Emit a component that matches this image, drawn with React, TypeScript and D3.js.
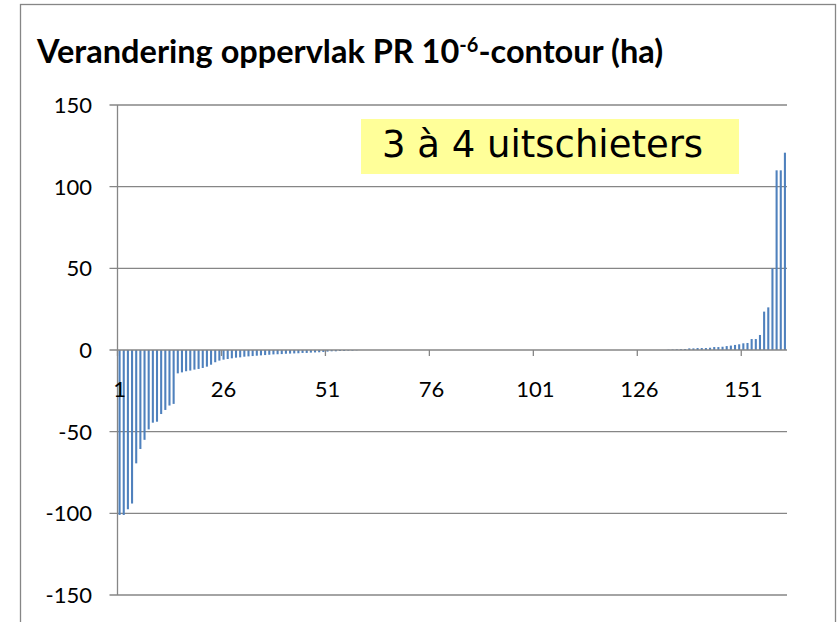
import React, { useEffect, useRef } from "react";
import * as d3 from "d3";

// change in area of the PR 10^-6 contour per establishment (ha), sorted
const negativeValues = [
  -101, -101, -97.5, -94, -69.4, -60.6, -55, -48.6, -44.5, -43.9,
  -39.2, -36.7, -34, -33, -14.3, -13.7, -13, -12.6, -12, -11.6,
  -11, -10.2, -9, -7.5, -6.5, -5.9, -5.5, -5.1, -4.7, -4.5,
  -4.1, -3.9, -3.7, -3.5, -3.3, -3.1, -2.9, -2.7, -2.6, -2.5,
  -2.3, -2.2, -2.1, -2, -1.8, -1.8, -1.6, -1.5, -1.4, -1.2,
  -1, -0.8, -0.8, -0.6, -0.6, -0.4, -0.4, -0.2,
];
const zeroValues = [
  0, 0, 0, 0, 0, 0, 0, 0, 0, 0, 0, 0, 0, 0, 0, 0, 0, 0, 0, 0,
  0, 0, 0, 0, 0, 0, 0, 0, 0, 0, 0, 0, 0, 0, 0, 0, 0, 0, 0, 0,
  0, 0, 0, 0, 0, 0, 0, 0, 0, 0, 0, 0, 0, 0, 0, 0, 0, 0, 0, 0,
  0, 0, 0, 0, 0, 0, 0, 0, 0, 0, 0, 0, 0, 0,
];
const positiveValues = [
  0.2, 0.3, 0.4, 0.5, 0.6, 1, 1, 1.2, 1.2, 1.2,
  1.4, 1.8, 1.8, 2, 2.4, 2.7, 3.1, 3.5, 4.1, 4.3,
  6.7, 6.7, 9.2, 23.5, 26.1, 50, 110, 110, 120.8,
];
const values = [...negativeValues, ...zeroValues, ...positiveValues];
const categories = values.map((_, i) => String(i + 1));
const xTickLabels = ["1", "26", "51", "76", "101", "126", "151"];
const yTicks = [-150, -100, -50, 0, 50, 100, 150];

const title = "Verandering oppervlak PR 10";
const note = "3 à 4 uitschieters";

const W = 837;
const H = 622;
const margin = { top: 105, right: 50, bottom: 27, left: 117.5 };
const grey = "#868686";
const barColor = "#4F81BD";
const labelFont = "Lato, 'Open Sans', sans-serif";

const App: React.FC = () => {
  const ref = useRef<SVGSVGElement>(null);

  useEffect(() => {
    if (!ref.current) return;
    const svg = d3.select(ref.current);
    svg.selectAll("*").remove();

    const x = d3
      .scaleBand()
      .domain(categories)
      .range([margin.left, W - margin.right])
      .paddingInner(0.5)
      .paddingOuter(0.25);
    const step = x.step();
    const y = d3
      .scaleLinear()
      .domain([-150, 150])
      .range([H - margin.bottom, margin.top]);

    // chart area border
    svg
      .append("rect")
      .attr("x", 20.5)
      .attr("y", 4.5)
      .attr("width", 815)
      .attr("height", 640)
      .attr("fill", "white")
      .attr("stroke", grey)
      .attr("stroke-width", 1.3);

    // title
    const t = svg
      .append("text")
      .attr("x", 37)
      .attr("y", 63)
      .attr("font-family", labelFont)
      .attr("font-weight", "bold")
      .attr("font-size", 32.5)
      .attr("fill", "black")
      .text(title);
    t.append("tspan").attr("font-size", 20).attr("dy", -11).text("-6");
    t.append("tspan").attr("dy", 11).text("-contour (ha)");

    // y gridlines + ticks + labels
    const yAxis = svg.append("g");
    yAxis
      .selectAll("line.grid")
      .data(yTicks.filter((d) => d !== 0))
      .join("line")
      .attr("class", "grid")
      .attr("x1", margin.left - 8)
      .attr("x2", W - margin.right)
      .attr("y1", (d) => y(d))
      .attr("y2", (d) => y(d))
      .attr("stroke", grey)
      .attr("stroke-width", 1.3);
    yAxis
      .selectAll("text")
      .data(yTicks)
      .join("text")
      .attr("x", 92)
      .attr("y", (d) => y(d))
      .attr("dy", "0.36em")
      .attr("text-anchor", "end")
      .attr("font-family", labelFont)
      .attr("font-size", 22)
      .attr("fill", "black")
      .text((d) => String(d));
    yAxis
      .append("line")
      .attr("x1", margin.left)
      .attr("x2", margin.left)
      .attr("y1", y(150))
      .attr("y2", y(-150))
      .attr("stroke", grey)
      .attr("stroke-width", 1.3);

    // bars
    svg
      .append("g")
      .selectAll("rect")
      .data(values)
      .join("rect")
      .attr("x", (_, i) => x(categories[i]) as number)
      .attr("width", x.bandwidth())
      .attr("y", (d) => y(Math.max(0, d)))
      .attr("height", (d) => Math.abs(y(d) - y(0)))
      .attr("fill", barColor);

    // horizontal axis at zero
    const xAxis = svg.append("g");
    xAxis
      .append("line")
      .attr("x1", margin.left - 8)
      .attr("x2", W - margin.right)
      .attr("y1", y(0))
      .attr("y2", y(0))
      .attr("stroke", grey)
      .attr("stroke-width", 1.3);
    xAxis
      .selectAll("line.tick")
      .data(d3.range(0, categories.length, 25))
      .join("line")
      .attr("class", "tick")
      .attr("x1", (i) => margin.left + i * step)
      .attr("x2", (i) => margin.left + i * step)
      .attr("y1", y(0))
      .attr("y2", y(0) + 6)
      .attr("stroke", grey)
      .attr("stroke-width", 1.3);
    xAxis
      .selectAll("text")
      .data(xTickLabels)
      .join("text")
      .attr("x", (d) => (x(d) as number) + x.bandwidth() / 2)
      .attr("y", y(0) + 47)
      .attr("text-anchor", "middle")
      .attr("font-family", labelFont)
      .attr("font-size", 22)
      .attr("fill", "black")
      .text((d) => d);

    // annotation box
    const note_g = svg.append("g");
    note_g
      .append("rect")
      .attr("x", 361)
      .attr("y", 119)
      .attr("width", 378)
      .attr("height", 55)
      .attr("fill", "#FFFF99");
    note_g
      .append("text")
      .attr("x", 382)
      .attr("y", 157)
      .attr("font-family", "'DejaVu Sans', Verdana, sans-serif")
      .attr("font-size", 37)
      .attr("fill", "black")
      .text(note);
  }, []);

  return (
    <svg
      ref={ref}
      width={W}
      height={H}
      style={{ position: "absolute", left: 0, top: 0, background: "white" }}
    ></svg>
  );
};

export default App;
